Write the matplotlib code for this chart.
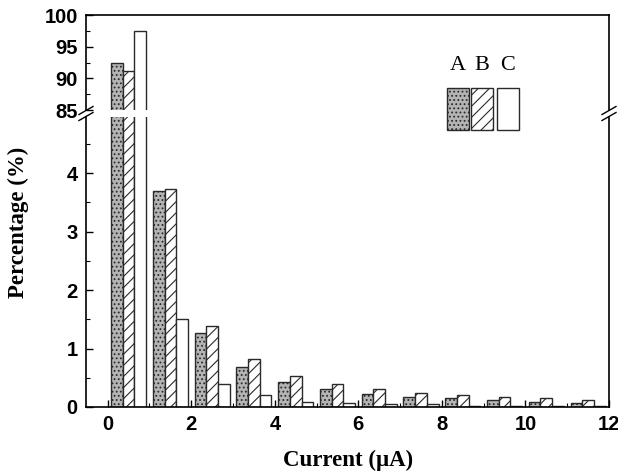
import matplotlib
matplotlib.use("Agg")
import matplotlib.pyplot as plt
import numpy as np
from matplotlib.lines import Line2D
from matplotlib.patches import Rectangle

plt.rcParams.update({
    "font.family": "Liberation Sans",
    "font.weight": "bold",
    "hatch.linewidth": 0.8,
    "xtick.direction": "in",
    "ytick.direction": "in",
})

# ---------- data ----------
current = np.arange(0.5, 12, 1.0)          # bin centres, uA
pct_a = [92.4, 3.70, 1.26, 0.69, 0.43, 0.31, 0.23, 0.17, 0.155, 0.115, 0.09, 0.07]
pct_b = [91.2, 3.73, 1.39, 0.82, 0.53, 0.40, 0.30, 0.24, 0.20, 0.17, 0.155, 0.115]
pct_c = [97.4, 1.50, 0.385, 0.20, 0.086, 0.07, 0.045, 0.045, 0.02, 0.02, 0.01, 0.01]
series_names = ["A", "B", "C"]

W, H = 618, 474
fig = plt.figure(figsize=(W / 100, H / 100), dpi=100)

left, right = 86 / W, 609 / W
ax_top = fig.add_axes([left, 1 - 110 / H, right - left, (110 - 15) / H])
ax_bot = fig.add_axes([left, 1 - 407 / H, right - left, (407 - 117) / H])

width = 0.28
styles = [
    dict(facecolor="#b4b4b4", hatch="....", edgecolor="#2a2a2a"),
    dict(facecolor="white", hatch="///", edgecolor="#2a2a2a"),
    dict(facecolor="white", hatch=None, edgecolor="#2a2a2a"),
]
for ax in (ax_top, ax_bot):
    for k, vals in enumerate([pct_a, pct_b, pct_c]):
        ax.bar(current + (k - 1) * width, vals, width, linewidth=1.0, **styles[k])
    ax.set_xlim(-0.52, 12.0)
    for s in ax.spines.values():
        s.set_linewidth(1.2)

ax_top.set_ylim(85, 100)
ax_top.set_yticks([85, 90, 95, 100])
ax_top.set_yticks(np.arange(85, 100.1, 2.5), minor=True)
ax_top.spines["bottom"].set_visible(False)
ax_top.tick_params(axis="x", bottom=False, labelbottom=False)

ax_bot.set_ylim(0, 4.96)
ax_bot.set_yticks([0, 1, 2, 3, 4])
ax_bot.set_yticks(np.arange(0, 4.9, 0.5), minor=True)
ax_bot.spines["top"].set_visible(False)
ax_bot.set_xticks(np.arange(0, 12.1, 2))
ax_bot.set_xticks(np.arange(0, 12.1, 1), minor=True)

for ax in (ax_top, ax_bot):
    ax.tick_params(which="major", length=5, width=1.0, labelsize=14.5, pad=6)
    ax.tick_params(which="minor", length=3, width=0.8)
    ax.tick_params(axis="y", right=False)
    ax.tick_params(axis="x", top=False)

# break marks on both side spines
for xf in (left, right):
    for dy in (-3, 3):
        yc = 1 - (113.5 + dy) / H
        fig.add_artist(Line2D([xf - 7 / W, xf + 7 / W], [yc - 4 / H, yc + 4 / H],
                              color="black", lw=1.0))

# legend boxes A B C
box_x = [447, 471, 497]
for k, name in enumerate(series_names):
    x0 = box_x[k]
    fig.add_artist(Rectangle((x0 / W, 1 - 130 / H), 22 / W, 42 / H,
                             transform=fig.transFigure, linewidth=1.0,
                             **styles[k]))
    fig.text((x0 + 11) / W, 1 - 66 / H, name, ha="center", va="center",
             fontsize=16, fontweight="normal", family="Liberation Serif")

fig.text(348 / W, 1 - 460 / H, "Current (\u03bcA)", ha="center", va="center",
         fontsize=16.5, fontweight="bold", family="Liberation Serif")
fig.text(18 / W, 1 - 222 / H, "Percentage (%)", ha="center", va="center",
         rotation=90, fontsize=16.5, fontweight="bold", family="Liberation Serif")

fig.savefig("out.png", dpi=100)
